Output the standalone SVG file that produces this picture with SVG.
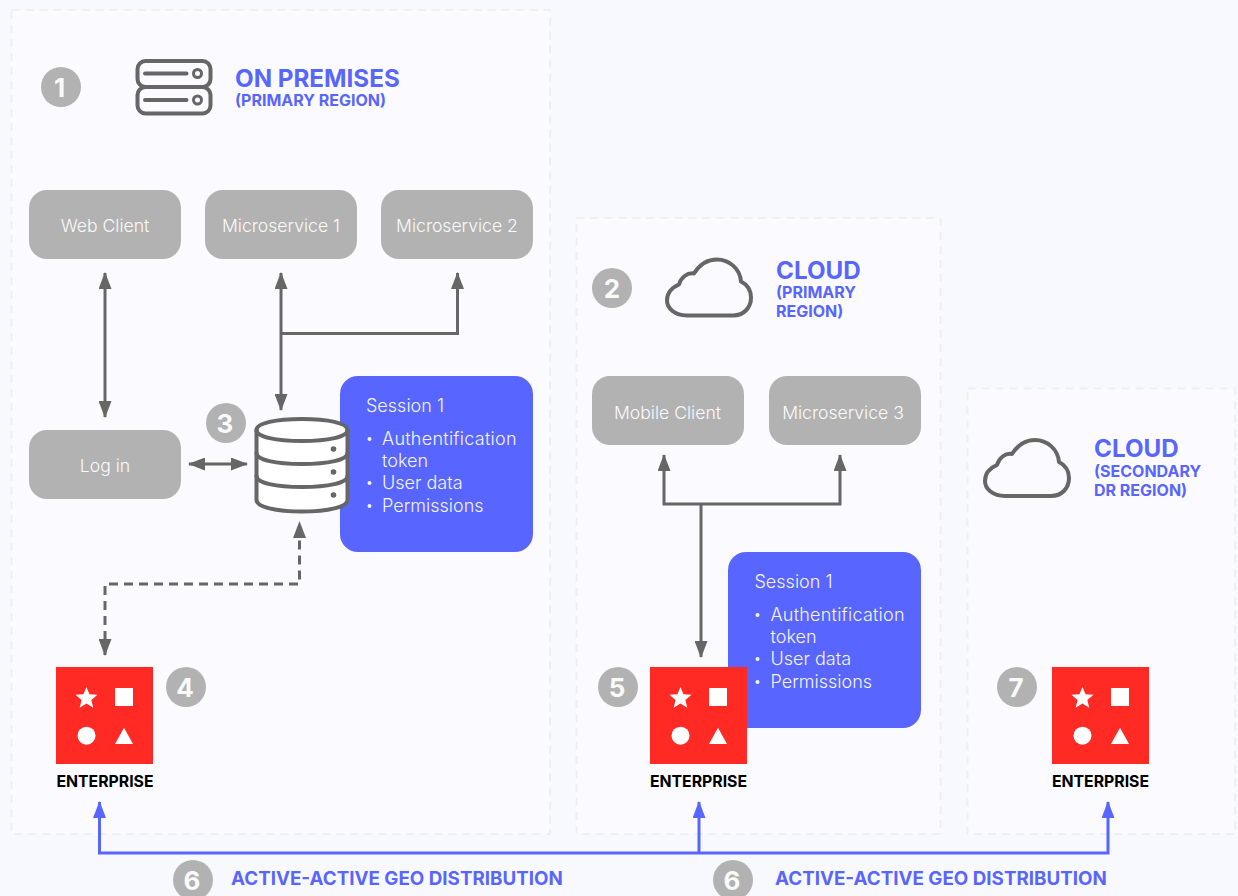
<svg xmlns="http://www.w3.org/2000/svg" width="1238" height="896" viewBox="0 0 1238 896">
<style>
text{font-family:Inter,"Liberation Sans",sans-serif}
.region{fill:#FBFBFF;stroke:#EEEFF5;stroke-width:2;stroke-dasharray:8 6}
.box{fill:#B2B2B2}
.boxt{fill:#FAFAFA;font-size:17.6px;font-weight:300;text-anchor:middle}
.num{fill:#B2B2B2}
.numt{fill:#FAFAFA;font-size:26px;font-weight:700;text-anchor:middle}
.h1{fill:#5865FF;font-size:24.2px;font-weight:700}
.h2{fill:#5865FF;font-size:16px;font-weight:700}
.geo{fill:#5865FF;font-size:18.8px;font-weight:700}
.sess{fill:#5865FF}
.sesst{fill:#F4F5FF;font-size:18px;font-weight:300}
.bullet{fill:#F4F5FF}
.ent{fill:#000;font-size:15.8px;font-weight:700;text-anchor:middle}
.ic{fill:none;stroke:#666;stroke-width:4;stroke-linecap:round;stroke-linejoin:round}
.dbf{fill:#FFF;stroke:#666;stroke-width:4;stroke-linejoin:round}
.wire{fill:none;stroke:#666;stroke-width:3}
.dash{stroke-dasharray:9 6}
.blue{fill:none;stroke:#5865FF;stroke-width:3}
</style>
<defs>
<marker id="ah" markerUnits="userSpaceOnUse" markerWidth="17" markerHeight="13" refX="16" refY="6.5" viewBox="0 0 17 13" orient="auto-start-reverse"><path d="M0 0L17 6.500L0 13Z" fill="#666"/></marker>
<marker id="ab" markerUnits="userSpaceOnUse" markerWidth="17" markerHeight="13" refX="16" refY="6.5" viewBox="0 0 17 13" orient="auto-start-reverse"><path d="M0 0L17 6.500L0 13Z" fill="#5865FF"/></marker>
<path id="cloud" class="ic" d="M21 57H67C78 57 85 49 85 39C85 32 81 26 75 23C74 10 63 1 51 1C41 1 33 7 28 15C21 14 15 19 13 26C6 29 1 34 1 42C1 50 9 57 21 57Z"/>
<g id="ent-icon"><rect width="97" height="97" fill="#FF2A24"/><path d="M30.500 19.500L33.800 27.500L42.500 28.100L35.800 33.700L37.900 42.200L30.500 37.600L23.100 42.200L25.200 33.700L18.500 28.100L27.200 27.500Z" fill="#fff" transform="translate(2.400 2) scale(.92)"/><rect x="59" y="21" width="18" height="18" fill="#fff"/><circle cx="30.500" cy="68.700" r="9" fill="#fff"/><path d="M68 60.700L77 77H59Z" fill="#fff"/></g>
</defs>
<rect width="1238" height="896" fill="#F8F9FF"/>
<g id="regions">
<rect class="region" x="11.500" y="10" width="538.500" height="824"/>
<rect class="region" x="576.500" y="218" width="364" height="616"/>
<rect class="region" x="967.500" y="388.500" width="267.500" height="445.500"/>
</g>
<g id="session-1"><rect class="sess" x="340" y="376" width="193" height="176" rx="18"/>
<text class="sesst" x="366" y="412">Session 1</text>
<circle class="bullet" cx="369.500" cy="439" r="2"/><text class="sesst" x="382" y="445" textLength="134.500">Authentification</text><text class="sesst" x="382" y="467">token</text>
<circle class="bullet" cx="369.500" cy="483" r="2"/><text class="sesst" x="382" y="489">User data</text>
<circle class="bullet" cx="369.500" cy="506" r="2"/><text class="sesst" x="382" y="512">Permissions</text></g>
<g id="session-2"><rect class="sess" x="728" y="552" width="193" height="176" rx="18"/>
<text class="sesst" x="754.500" y="588">Session 1</text>
<circle class="bullet" cx="757.500" cy="615" r="2"/><text class="sesst" x="770.500" y="621" textLength="134">Authentification</text><text class="sesst" x="770.500" y="643">token</text>
<circle class="bullet" cx="757.500" cy="659" r="2"/><text class="sesst" x="770.500" y="665">User data</text>
<circle class="bullet" cx="757.500" cy="682" r="2"/><text class="sesst" x="770.500" y="688">Permissions</text></g>
<g id="connectors">
<path class="wire" d="M105 273V417" marker-start="url(#ah)" marker-end="url(#ah)"/>
<path class="wire" d="M281 273V410" marker-start="url(#ah)" marker-end="url(#ah)"/>
<path class="wire" d="M281 333.500H457.500V273" marker-end="url(#ah)"/>
<path class="wire" d="M189 464H247" marker-start="url(#ah)" marker-end="url(#ah)"/>
<path class="wire dash" d="M105 655V584H299.500V522" marker-start="url(#ah)" marker-end="url(#ah)"/>
<path class="wire" d="M701 504V657" marker-end="url(#ah)"/>
<path class="wire" d="M664 455V504H840V455" marker-start="url(#ah)" marker-end="url(#ah)"/>
<path class="blue" d="M99.500 802V853H1108V802" marker-start="url(#ab)" marker-end="url(#ab)"/>
<path class="blue" d="M699 853V802" marker-end="url(#ab)"/>
</g>
<g id="badge-1"><circle class="num" cx="61" cy="87" r="20"/><text class="numt" x="59.500" y="97">1</text></g>
<g id="badge-2"><circle class="num" cx="612" cy="288" r="20"/><text class="numt" x="612" y="298">2</text></g>
<g id="badge-3"><circle class="num" cx="226" cy="423" r="20"/><text class="numt" x="225" y="433">3</text></g>
<g id="badge-4"><circle class="num" cx="186" cy="687" r="20"/><text class="numt" x="185" y="697">4</text></g>
<g id="badge-5"><circle class="num" cx="618" cy="687" r="20"/><text class="numt" x="617" y="697">5</text></g>
<g id="badge-6a"><circle class="num" cx="193" cy="880" r="20"/><text class="numt" x="192" y="890">6</text></g>
<g id="badge-6b"><circle class="num" cx="733" cy="880" r="20"/><text class="numt" x="732" y="890">6</text></g>
<g id="badge-7"><circle class="num" cx="1017" cy="687" r="20"/><text class="numt" x="1016" y="697">7</text></g>
<g id="header-on-premises">
<rect class="ic" x="137.500" y="61" width="73" height="26" rx="8"/>
<rect class="ic" x="137.500" y="87" width="73" height="26.500" rx="8"/>
<path class="ic" d="M145 73.500H186.500M145 100H186.500"/>
<circle cx="197.500" cy="73.500" r="4" fill="none" stroke="#666" stroke-width="3"/>
<circle cx="197.500" cy="100" r="4" fill="none" stroke="#666" stroke-width="3"/>
<text class="h1" x="235" y="87">ON PREMISES</text>
<text class="h2" x="235" y="106">(PRIMARY REGION)</text>
</g>
<g id="header-cloud-primary">
<use href="#cloud" x="666" y="258.500"/>
<text class="h1" x="776" y="279">CLOUD</text>
<text class="h2" x="776" y="298">(PRIMARY</text>
<text class="h2" x="776" y="317">REGION)</text>
</g>
<g id="header-cloud-secondary">
<use href="#cloud" x="984" y="439"/>
<text class="h1" x="1094" y="457">CLOUD</text>
<text class="h2" x="1094" y="477">(SECONDARY</text>
<text class="h2" x="1094" y="496">DR REGION)</text>
</g>
<g id="web-client"><rect class="box" x="29" y="190" width="152" height="69" rx="18"/><text class="boxt" x="105" y="232">Web Client</text></g>
<g id="microservice-1"><rect class="box" x="205" y="190" width="152" height="69" rx="18"/><text class="boxt" x="281" y="232">Microservice 1</text></g>
<g id="microservice-2"><rect class="box" x="381" y="190" width="152" height="69" rx="18"/><text class="boxt" x="457" y="232">Microservice 2</text></g>
<g id="log-in"><rect class="box" x="29" y="430" width="152" height="69" rx="18"/><text class="boxt" x="105" y="472">Log in</text></g>
<g id="mobile-client"><rect class="box" x="592" y="376" width="152" height="69" rx="18"/><text class="boxt" x="667.500" y="419">Mobile Client</text></g>
<g id="microservice-3"><rect class="box" x="769" y="376" width="152" height="69" rx="18"/><text class="boxt" x="843" y="419">Microservice 3</text></g>
<g id="database">
<path class="dbf" d="M256.500 430C256.500 423 276 419 302 419C328 419 347.500 423 347.500 430V500C347.500 507 328 511.500 302 511.500C276 511.500 256.500 507 256.500 500Z"/>
<path class="ic" d="M256.500 430C256.500 437 276 441 302 441C328 441 347.500 437 347.500 430M256.500 453C256.500 460 276 464 302 464C328 464 347.500 460 347.500 453M256.500 476C256.500 483 276 487 302 487C328 487 347.500 483 347.500 476"/>
<circle cx="333.500" cy="449" r="2.800" fill="#666"/><circle cx="333.500" cy="472" r="2.800" fill="#666"/><circle cx="333.500" cy="495" r="2.800" fill="#666"/>
</g>
<g id="enterprise-1"><use href="#ent-icon" x="56" y="667"/><text class="ent" x="105" y="787">ENTERPRISE</text></g>
<g id="enterprise-2"><use href="#ent-icon" x="650" y="667"/><text class="ent" x="698.500" y="787">ENTERPRISE</text></g>
<g id="enterprise-3"><use href="#ent-icon" x="1052" y="667"/><text class="ent" x="1100.500" y="787">ENTERPRISE</text></g>
<g id="labels">
<text class="geo" x="231" y="885">ACTIVE-ACTIVE GEO DISTRIBUTION</text>
<text class="geo" x="775" y="885">ACTIVE-ACTIVE GEO DISTRIBUTION</text>
</g>
</svg>
